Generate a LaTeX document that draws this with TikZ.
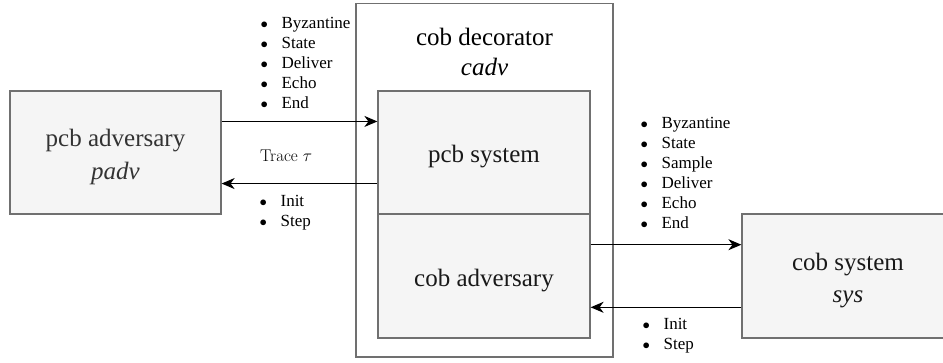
\documentclass[tikz,border=0pt]{standalone}
\usepackage{graphicx}
\usepackage{fontspec}
\setmainfont{Liberation Serif}
\newfontfamily\lmfont{Latin Modern Roman}
\usetikzlibrary{arrows.meta,calc}
\definecolor{boxfill}{HTML}{F5F5F5}
\definecolor{boxline}{HTML}{707070}
\definecolor{txtgray}{HTML}{333333}
\newcommand\bigstrut{\rule[-4pt]{0pt}{30pt}}
\newcommand\lblstrut{\rule[-4.3pt]{0pt}{20pt}}
\newcommand\itm[1]{\lblstrut\makebox[21pt][l]{\scalebox{0.85}{$\bullet$}}#1}
\begin{document}
\begin{tikzpicture}[x=1pt,y=-1pt,
  gbox/.style={draw=boxline, fill=boxfill, line width=1.2pt, inner sep=0pt,
    font=\fontsize{25}{30}\selectfont, align=center},
  outerbox/.style={draw=boxline, fill=white, line width=1.2pt, inner sep=0pt},
  lbl/.style={font=\fontsize{17}{20}\selectfont, align=left, inner sep=0pt, anchor=north west},
  conn/.style={line width=1.4pt, -{Stealth[length=13pt,width=11pt,inset=4pt]}}]
\useasboundingbox (0,0) rectangle (943,362);
\clip (0,0) rectangle (943,362);
% outer decorator box
\node[outerbox, minimum width=257pt, minimum height=353.5pt] (cadvbox) at (484.5,180.25) {};
\node[font=\fontsize{25}{30}\selectfont, align=center, inner sep=0pt, anchor=north] (cadvtxt)
  at (484.5,19) {\bigstrut cob decorator\\\bigstrut\textit{cadv}};
% boxes
\node[gbox, text=txtgray, minimum width=211pt, minimum height=123pt] (padv) at (115.5,152.5)
  {\bigstrut pcb adversary\\\bigstrut\textit{padv}};
\node[gbox, text=black!90, minimum width=212pt, minimum height=123pt] (pcbsys) at (484,152.5)
  {\bigstrut pcb system};
\node[gbox, text=black!90, minimum width=212pt, minimum height=124pt] (cobadv) at (484,276)
  {\bigstrut cob adversary};
\node[gbox, text=black!90, minimum width=212pt, minimum height=124pt] (sys) at (848,276)
  {\bigstrut cob system\\\bigstrut\textit{sys}};
% connectors
\draw[conn] ($(padv.north east)!0.25!(padv.south east)$) -- ($(pcbsys.north west)!0.25!(pcbsys.south west)$);
\draw[conn] ($(pcbsys.north west)!0.75!(pcbsys.south west)$) -- ($(padv.north east)!0.75!(padv.south east)$);
\draw[conn] ($(cobadv.north east)!0.25!(cobadv.south east)$) -- ($(sys.north west)!0.25!(sys.south west)$);
\draw[conn] ($(sys.north west)!0.75!(sys.south west)$) -- ($(cobadv.north east)!0.75!(cobadv.south east)$);
% labels
\node[lbl] (l1) at (260.4,13) {\itm{Byzantine}\\\itm{State}\\\itm{Deliver}\\\itm{Echo}\\\itm{End}};
\node[font=\lmfont\fontsize{17}{20}\selectfont, inner sep=0pt, anchor=base west] (l2) at (260,161) {Trace $\tau$};
\node[lbl] (l3) at (259.4,191) {\itm{Init}\\\itm{Step}};
\node[lbl] (l4) at (640.4,112.5) {\itm{Byzantine}\\\itm{State}\\\itm{Sample}\\\itm{Deliver}\\\itm{Echo}\\\itm{End}};
\node[lbl] (l5) at (642.4,313.3) {\itm{Init}\\\itm{Step}};
\end{tikzpicture}
\end{document}
